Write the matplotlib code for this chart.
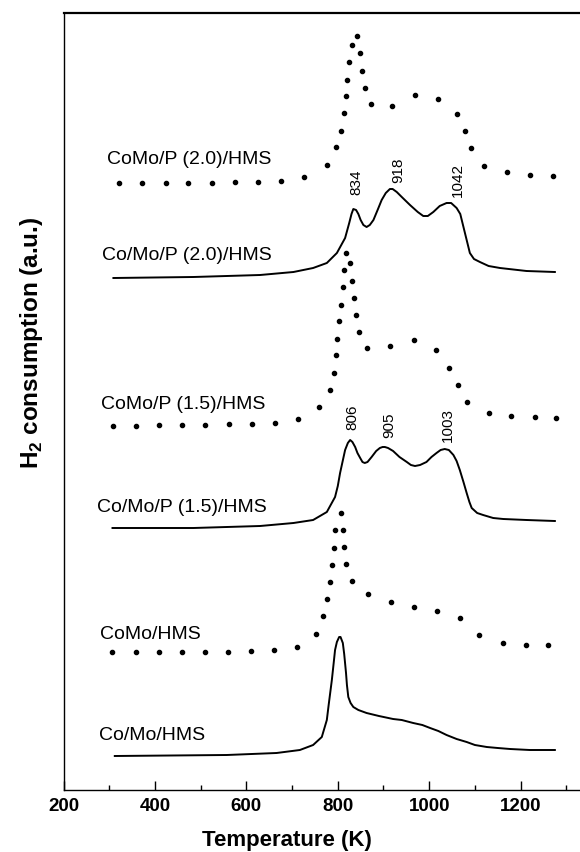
import matplotlib
matplotlib.use("Agg")
import matplotlib.pyplot as plt
from matplotlib.ticker import MultipleLocator

plt.rcParams['font.family'] = ['Liberation Sans', 'DejaVu Sans']
plt.rcParams['mathtext.fontset'] = 'custom'
plt.rcParams['mathtext.rm'] = 'Liberation Sans'
plt.rcParams['mathtext.bf'] = 'Liberation Sans:bold'

# Co/Mo/HMS (solid, bottom)
t_como = [312, 557, 666, 717, 746, 765, 776, 780, 787, 791, 794, 798, 803, 806, 811, 814, 818, 820, 823,
          828, 834, 845, 863, 890, 921, 940, 965, 985, 1002, 1020, 1038, 1060, 1082, 1100, 1126, 1150,
          1177, 1220, 1275]
h_como = [0.34, 0.35, 0.37, 0.40, 0.45, 0.53, 0.70, 0.85, 1.10, 1.27, 1.40, 1.48, 1.53, 1.53, 1.47, 1.36, 1.17, 1.05, 0.93,
          0.87, 0.83, 0.80, 0.77, 0.74, 0.71, 0.70, 0.67, 0.65, 0.62, 0.59, 0.55, 0.51, 0.48, 0.45, 0.43, 0.42,
          0.41, 0.40, 0.40]

# CoMo/HMS (dots)
t_como_d = [307, 358, 408, 459, 509, 560, 610, 661, 711, 753, 768, 776, 782, 787, 791, 794,
            806, 811, 814, 819, 830, 867, 916, 967, 1017, 1067, 1110, 1161, 1211, 1261]
h_como_d = [1.38, 1.38, 1.38, 1.38, 1.38, 1.38, 1.39, 1.40, 1.43, 1.56, 1.74, 1.91, 2.08, 2.25, 2.42, 2.60,
            2.77, 2.60, 2.43, 2.26, 2.09, 1.96, 1.88, 1.83, 1.79, 1.72, 1.55, 1.47, 1.45, 1.45]

# Co/Mo/P (1.5)/HMS (solid)
t_p15 = [307, 484, 630, 703, 746, 776, 794, 800, 805, 816, 822, 827, 832, 838, 843, 849, 854, 859, 865,
         874, 884, 892, 898, 903, 910, 921, 935, 951, 960, 969, 980, 994, 1005, 1016, 1025, 1034, 1043,
         1053, 1060, 1067, 1075, 1082, 1088, 1093, 1105, 1118, 1140, 1162, 1213, 1275]
h_p15 = [2.62, 2.62, 2.64, 2.67, 2.70, 2.78, 2.93, 3.04, 3.17, 3.40, 3.47, 3.50, 3.48, 3.43, 3.37, 3.32, 3.28, 3.27, 3.28,
         3.33, 3.39, 3.42, 3.43, 3.43, 3.42, 3.39, 3.33, 3.28, 3.25, 3.24, 3.25, 3.28, 3.33, 3.37, 3.40, 3.41, 3.40,
         3.35, 3.29, 3.20, 3.08, 2.97, 2.88, 2.82, 2.77, 2.75, 2.72, 2.71, 2.70, 2.69]

# CoMo/P (1.5)/HMS (dots)
t_p15_d = [309, 359, 409, 460, 510, 561, 612, 663, 712, 759, 782, 792, 795, 799, 803, 807, 811, 814,
           818, 827, 831, 835, 839, 846, 864, 915, 966, 1014, 1043, 1062, 1083, 1131, 1180, 1231, 1277]
h_p15_d = [3.64, 3.64, 3.65, 3.65, 3.65, 3.66, 3.66, 3.67, 3.71, 3.83, 4.00, 4.17, 4.35, 4.51, 4.69, 4.85, 5.03, 5.20,
           5.37, 5.27, 5.09, 4.92, 4.75, 4.58, 4.42, 4.44, 4.50, 4.40, 4.22, 4.05, 3.88, 3.77, 3.74, 3.73, 3.72]

# Co/Mo/P (2.0)/HMS (solid)
t_p20 = [309, 484, 630, 703, 746, 776, 798, 816, 825, 830, 834, 840, 845, 850, 856, 863, 870, 878, 888,
         896, 905, 914, 920, 929, 940, 958, 975, 987, 997, 1009, 1023, 1038, 1048, 1060, 1068, 1075, 1082,
         1089, 1098, 1111, 1130, 1155, 1213, 1275]
h_p20 = [5.12, 5.13, 5.15, 5.18, 5.22, 5.27, 5.37, 5.52, 5.67, 5.76, 5.81, 5.80, 5.76, 5.70, 5.65, 5.63, 5.65, 5.70, 5.81,
         5.90, 5.97, 6.01, 6.01, 5.98, 5.93, 5.85, 5.78, 5.74, 5.74, 5.78, 5.84, 5.87, 5.87, 5.82, 5.76, 5.63, 5.50,
         5.37, 5.31, 5.28, 5.24, 5.22, 5.19, 5.18]

# CoMo/P (2.0)/HMS (dots)
t_p20_d = [321, 372, 423, 473, 524, 574, 625, 675, 726, 776, 797, 808, 813, 817, 821, 825, 830,
           841, 848, 854, 860, 873, 919, 969, 1019, 1061, 1078, 1091, 1119, 1170, 1220, 1270]
h_p20_d = [6.07, 6.07, 6.07, 6.07, 6.07, 6.08, 6.08, 6.09, 6.13, 6.25, 6.43, 6.59, 6.77, 6.94, 7.10, 7.28, 7.45,
           7.54, 7.37, 7.19, 7.02, 6.86, 6.84, 6.95, 6.91, 6.76, 6.59, 6.42, 6.24, 6.18, 6.15, 6.14]

# sample names and where they sit
names = ["CoMo/P (2.0)/HMS", "Co/Mo/P (2.0)/HMS", "CoMo/P (1.5)/HMS",
         "Co/Mo/P (1.5)/HMS", "CoMo/HMS", "Co/Mo/HMS"]
name_t = [294, 283, 281, 272, 280, 278]
name_h = [6.26, 5.30, 3.81, 2.78, 1.51, 0.50]

# peak temperatures written above the curves
peaks = ["834", "918", "1042", "806", "905", "1003"]
peak_t = [841, 933, 1063, 832, 912, 1040]
peak_h = [5.95, 6.07, 5.93, 3.60, 3.52, 3.48]

fig = plt.figure(figsize=(5.8, 8.52), dpi=100)
ax = fig.add_axes([63.6 / 580, 62 / 852, 1 - 63.6 / 580, 777 / 852])

for t, h in [(t_como, h_como), (t_p15, h_p15), (t_p20, h_p20)]:
    ax.plot(t, h, color='black', lw=1.4, solid_joinstyle='round')
for t, h in [(t_como_d, h_como_d), (t_p15_d, h_p15_d), (t_p20_d, h_p20_d)]:
    ax.plot(t, h, linestyle='none', marker='o', ms=3.0, color='black')

for s, t, h in zip(names, name_t, name_h):
    ax.text(t, h, s, fontsize=14, ha='left', va='baseline')
for s, t, h in zip(peaks, peak_t, peak_h):
    ax.text(t, h, s, fontsize=11, rotation=90, ha='center', va='bottom')

ax.set_xlim(200, 1330)
ax.set_ylim(0, 7.77)
ax.set_yticks([])
ax.xaxis.set_major_locator(MultipleLocator(200))
ax.xaxis.set_minor_locator(MultipleLocator(100))
ax.tick_params(axis='x', which='major', direction='in', length=6.5, width=1.0,
               pad=6, labelsize=13.5)
ax.tick_params(axis='x', which='minor', direction='in', length=3.6, width=1.0)
for lab in ax.get_xticklabels():
    lab.set_fontweight('bold')

ax.spines['right'].set_visible(False)
ax.spines['top'].set_linewidth(1.6)
ax.spines['left'].set_linewidth(1.0)
ax.spines['bottom'].set_linewidth(1.0)

ax.set_xlabel("Temperature (K)", fontsize=16, fontweight='bold', va='center')
ax.xaxis.set_label_coords(0.4326, -0.0644)
ax.set_ylabel(r"H$_\mathbf{2}$ consumption (a.u.)", fontsize=17.5, fontweight='bold', va='center')
ax.yaxis.set_label_coords(-0.0626, 0.576)

fig.savefig("out.png", dpi=100)
